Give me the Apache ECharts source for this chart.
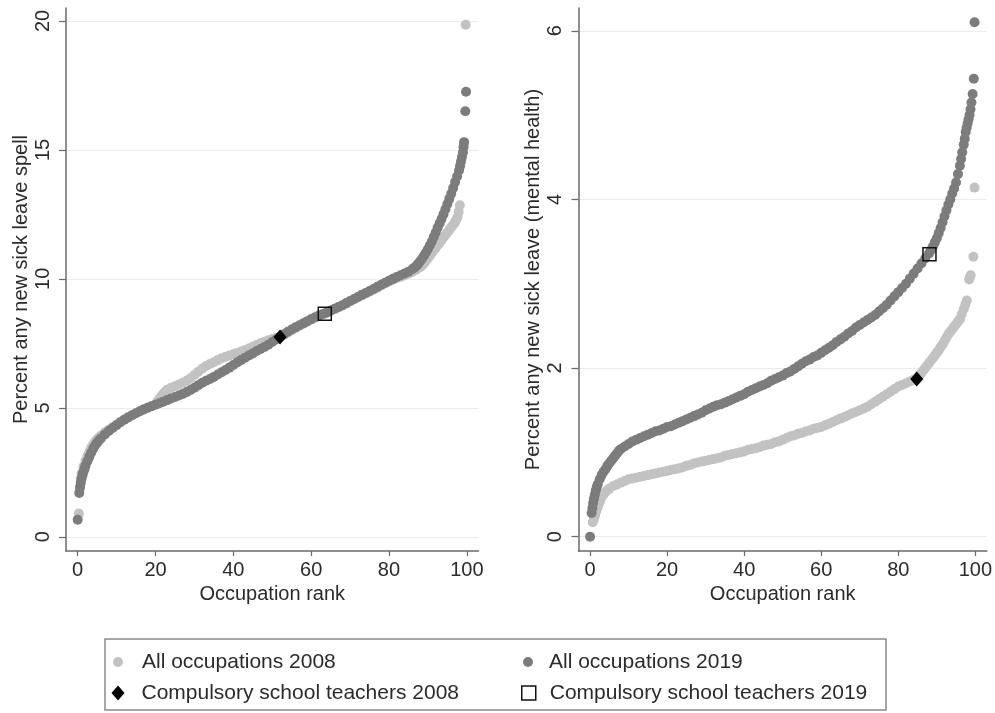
<!DOCTYPE html>
<html>
<head>
<meta charset="utf-8">
<script src="https://cdn.jsdelivr.net/npm/echarts@6/dist/echarts.min.js"></script>
<style>
  html, body { margin: 0; padding: 0; background: #fff; }
  #chart { width: 995px; height: 713px; }
</style>
</head>
<body>
<div id="chart"></div>
<script>
// Tick positions
const xTicks = [0, 20, 40, 60, 80, 100];
const spellTicks = [0, 5, 10, 15, 20];
const mentalTicks = [0, 2, 4, 6];

// Percent with any new sick leave spell, by occupation rank [rank, percent]
const spellAll2008 = [
  [0.3,0.9],[0.6,1.95],[0.8,2.25],[1,2.45],[1.5,2.72],[2,2.95],[2.5,3.13],[3,3.3],[3.5,3.45],[4,3.58],
  [4.5,3.69],[5,3.78],[5.5,3.86],[6,3.93],[7,4.05],[8,4.15],
  [9,4.25],[10,4.35],[11,4.45],[12,4.55],[13,4.64],[14,4.72],[15,4.8],[16,4.88],[17,4.95],[18,5.01],
  [19,5.07],[20,5.14],[20.5,5.25],[21,5.35],[21.5,5.45],[22,5.55],[22.5,5.63],[23,5.7],[24,5.78],[25,5.84],
  [26,5.9],[27,5.97],[28,6.05],
  [29,6.15],[30,6.27],[31,6.4],[32,6.52],[33,6.62],[34,6.7],[35,6.77],[36,6.85],[37,6.92],[38,6.98],
  [39,7.03],[40,7.08],[41,7.13],[42,7.18],[43,7.24],[44,7.3],[45,7.37],[46,7.44],[47,7.5],[48,7.56],
  [49,7.62],[50,7.67],[51,7.71],[52,7.75],[53,7.83],[54,7.92],[55,8.01],[56,8.1],[57,8.18],[58,8.26],
  [59,8.34],[60,8.42],[61,8.49],[62,8.56],[63,8.62],[64,8.68],[65,8.75],[66,8.82],[67,8.89],[68,8.96],
  [69,9.04],[70,9.12],[71,9.2],[72,9.28],[73,9.35],[74,9.42],[75,9.5],[76,9.58],[77,9.66],[78,9.74],
  [79,9.82],[80,9.9],[81,9.96],[82,10.02],[83,10.08],[84,10.14],[85,10.2],[86,10.27],[87,10.35],[88,10.45],
  [88.5,10.52],[89,10.6],[89.5,10.7],[90,10.8],[90.5,10.9],[91,11.0],[91.5,11.1],[92,11.2],[92.5,11.3],
  [93,11.4],[93.5,11.5],[94,11.6],[94.5,11.7],[95,11.8],[95.5,11.9],[96,12.0],[96.5,12.1],[97,12.2],
  [97.3,12.3],[97.6,12.4],[97.9,12.6],[98.2,12.85],[99.2,15.2],[99.7,19.85]
];
const spellAll2019 = [
  [0,0.66],[0.4,1.7],[0.6,1.9],[0.8,2.1],[1,2.25],[1.25,2.4],[1.5,2.52],[1.75,2.63],[2,2.75],[2.5,2.93],
  [3,3.1],[3.5,3.27],[4,3.42],[4.5,3.55],[5,3.65],[5.5,3.74],[6,3.82],[7,3.97],
  [8,4.1],[9,4.22],[10,4.33],[11,4.44],[12,4.54],[13,4.63],[14,4.71],[15,4.79],[16,4.87],[17,4.94],
  [18,5.0],[19,5.06],[20,5.12],[21,5.18],[22,5.24],[23,5.3],[24,5.36],[25,5.42],[26,5.48],[27,5.54],
  [28,5.61],[29,5.69],[30,5.78],[31,5.88],[32,5.97],[33,6.05],[34,6.12],[35,6.2],[36,6.29],[37,6.38],
  [38,6.47],[39,6.56],[40,6.66],[41,6.76],[42,6.85],[43,6.94],[44,7.03],[45,7.11],[46,7.2],[47,7.28],
  [48,7.36],[49,7.45],[50,7.55],[51,7.65],[52,7.75],[53,7.85],[54,7.95],[55,8.04],[56,8.12],[57,8.2],
  [58,8.28],[59,8.36],[60,8.44],[61,8.51],[62,8.58],[63,8.64],[64,8.7],[65,8.77],[66,8.84],[67,8.91],
  [68,8.98],[69,9.06],[70,9.14],[71,9.22],[72,9.3],[73,9.38],[74,9.45],[75,9.53],[76,9.61],[77,9.69],
  [78,9.77],[79,9.85],[80,9.93],[81,10.0],[82,10.07],[83,10.14],[84,10.21],[85,10.28],[86,10.37],
  [86.5,10.43],[87,10.5],[87.5,10.58],[88,10.68],[88.5,10.78],[89,10.9],[89.5,11.02],[90,11.15],
  [90.5,11.3],[91,11.45],[91.5,11.62],[92,11.8],[92.5,11.98],[93,12.15],[93.5,12.32],[94,12.5],
  [94.5,12.7],[95,12.9],[95.5,13.1],[96,13.3],[96.5,13.52],[97,13.75],[97.5,13.97],[98,14.2],
  [98.25,14.37],[98.5,14.55],[98.75,14.72],[99,14.9],[99.15,15.1],[99.3,15.3],[99.6,16.5],[99.8,17.25]
];
const spellTeachers2008 = [[52,7.75]];
const spellTeachers2019 = [[63.5,8.65]];

// Percent with any new sick leave for mental health, by occupation rank [rank, percent]
const mentalAll2008 = [
  [0.7,0.17],[1,0.21],[1.3,0.25],[1.6,0.3],[2,0.35],[2.3,0.39],[2.6,0.42],[3,0.47],[3.5,0.5],[4,0.53],
  [4.5,0.55],[5,0.57],[6,0.6],[7,0.62],[8,0.64],
  [9,0.66],[10,0.68],[11,0.69],[12,0.7],[13,0.71],[14,0.72],[15,0.73],[16,0.74],[17,0.75],[18,0.76],
  [19,0.77],[20,0.78],[21,0.79],[22,0.8],[23,0.81],[24,0.82],[25,0.84],[26,0.85],[27,0.87],[28,0.88],
  [29,0.89],[30,0.9],[31,0.91],[32,0.92],[33,0.93],[34,0.94],[35,0.96],[36,0.97],[37,0.98],[38,0.99],
  [39,1.0],[40,1.01],[41,1.03],[42,1.04],[43,1.05],[44,1.06],[45,1.08],[46,1.09],[47,1.1],[48,1.12],
  [49,1.13],[50,1.15],[51,1.17],[52,1.19],[53,1.2],[54,1.22],[55,1.23],[56,1.25],[57,1.26],[58,1.28],
  [59,1.29],[60,1.3],[61,1.32],[62,1.34],[63,1.36],[64,1.38],[65,1.4],[66,1.42],[67,1.44],[68,1.46],
  [69,1.48],[70,1.5],[71,1.52],[72,1.54],[73,1.57],[74,1.6],[75,1.63],[76,1.66],[77,1.69],[78,1.72],
  [79,1.75],[80,1.78],[81,1.8],[82,1.82],[83,1.84],[84,1.86],[85,1.88],[85.5,1.91],[86,1.94],[86.5,1.97],
  [87,2.0],[87.5,2.03],[88,2.06],[88.5,2.09],[89,2.12],[89.5,2.15],[90,2.18],[90.5,2.21],[91,2.25],
  [91.5,2.28],[92,2.32],[92.5,2.36],[93,2.4],[93.5,2.43],[94,2.46],[94.5,2.49],[95,2.52],[95.5,2.55],
  [96,2.58],[96.5,2.64],[97,2.7],[97.4,2.75],[97.8,2.8],[98.4,3.05],[98.6,3.08],[98.8,3.1],[99.5,3.32],
  [99.8,4.14]
];
const mentalAll2019 = [
  [0,0.0],[0.4,0.28],[0.6,0.34],[0.8,0.4],[1,0.45],[1.25,0.5],[1.5,0.55],[1.75,0.59],[2,0.62],[2.5,0.68],
  [3,0.73],[3.5,0.77],[4,0.8],[4.5,0.84],[5,0.87],[5.5,0.9],[6,0.93],[6.5,0.96],[7,0.99],[7.5,1.02],
  [8,1.04],[9,1.07],[10,1.1],[11,1.13],[12,1.15],[13,1.17],[14,1.19],[15,1.21],[16,1.23],[17,1.25],
  [18,1.26],[19,1.28],[20,1.3],[21,1.31],[22,1.33],[23,1.35],[24,1.37],[25,1.39],[26,1.41],[27,1.43],
  [28,1.45],[29,1.47],[30,1.5],[31,1.52],[32,1.54],[33,1.56],[34,1.57],[35,1.59],[36,1.61],[37,1.63],
  [38,1.65],[39,1.67],[40,1.69],[41,1.72],[42,1.74],[43,1.76],[44,1.78],[45,1.8],[46,1.82],[47,1.85],
  [48,1.87],[49,1.89],[50,1.91],[51,1.94],[52,1.96],[53,1.99],[54,2.02],[55,2.05],[56,2.08],[57,2.1],
  [58,2.13],[59,2.15],[60,2.18],[61,2.21],[62,2.24],[63,2.27],[64,2.31],[65,2.34],[66,2.37],[67,2.41],
  [68,2.44],[69,2.48],[70,2.51],[71,2.54],[72,2.57],[73,2.6],[74,2.63],[75,2.67],[76,2.71],[77,2.75],
  [78,2.8],[79,2.85],[80,2.9],[81,2.95],[82,3.0],[83,3.06],[84,3.12],[85,3.18],[86,3.24],[87,3.3],
  [88,3.36],[88.5,3.4],[89,3.44],[89.5,3.49],[90,3.54],[90.5,3.6],[91,3.66],[91.5,3.73],[92,3.8],
  [92.5,3.87],[93,3.94],[93.5,4.0],[94,4.07],[94.5,4.13],[95,4.2],[95.5,4.3],[96,4.4],[96.3,4.48],
  [96.6,4.56],[97,4.65],[97.25,4.72],[97.5,4.8],[97.75,4.85],[98,4.9],[98.25,4.95],[98.5,5.0],
  [98.75,5.07],[99,5.15],[99.3,5.25],[99.6,5.43],[99.8,6.1]
];
const mentalTeachers2008 = [[84.8,1.87]];
const mentalTeachers2019 = [[88.1,3.35]];

const FONT = '"Liberation Sans", Arial, sans-serif';
const TEXT = '#2b2b2b';
const AXIS = '#6a6a6a';
const LIGHT = '#c2c2c2';
const DARK = '#7c7c7c';

const NAMES = {
  all08: 'All occupations 2008',
  all19: 'All occupations 2019',
  t08: 'Compulsory school teachers 2008',
  t19: 'Compulsory school teachers 2019'
};

function xAxisFor(gridIndex) {
  return {
    gridIndex, type: 'value', min: -3, max: 103,
    name: 'Occupation rank', nameLocation: 'middle', nameGap: 32,
    nameTextStyle: { fontFamily: FONT, fontSize: 20, color: TEXT },
    axisLine: { show: true, onZero: false, lineStyle: { color: AXIS, width: 1.5 } },
    axisTick: { show: true, length: 5, customValues: xTicks, lineStyle: { color: AXIS, width: 1.2 } },
    axisLabel: { customValues: xTicks, fontFamily: FONT, fontSize: 20, color: TEXT, margin: 9 },
    splitLine: { show: false }
  };
}

function yAxisFor(gridIndex, min, max, ticks, name) {
  return {
    gridIndex, type: 'value', min, max,
    name, nameLocation: 'middle', nameGap: 35,
    nameTextStyle: { fontFamily: FONT, fontSize: 20, color: TEXT },
    axisLine: { show: true, onZero: false, lineStyle: { color: AXIS, width: 1.5 } },
    axisTick: { show: true, length: 7, customValues: ticks, lineStyle: { color: AXIS, width: 1.2 } },
    axisLabel: { customValues: ticks, rotate: 90, fontFamily: FONT, fontSize: 20, color: TEXT, margin: 13 },
    splitLine: { show: true, lineStyle: { color: '#ececec', width: 1 } }
  };
}

function panelSeries(idx, all08, all19, t08, t19) {
  const base = { type: 'scatter', xAxisIndex: idx, yAxisIndex: idx, emphasis: { disabled: true }, silent: true };
  return [
    Object.assign({}, base, { name: NAMES.all08, data: all08, symbol: 'circle', symbolSize: 10,
      itemStyle: { color: LIGHT, opacity: 1 }, z: 2 }),
    Object.assign({}, base, { name: NAMES.all19, data: all19, symbol: 'circle', symbolSize: 10,
      itemStyle: { color: DARK, opacity: 1 }, z: 3 }),
    Object.assign({}, base, { name: NAMES.t08, data: t08, symbol: 'diamond', symbolSize: [13, 15],
      itemStyle: { color: '#000', opacity: 1 }, z: 4 }),
    Object.assign({}, base, { name: NAMES.t19, data: t19, symbol: 'rect', symbolSize: 13,
      itemStyle: { color: 'rgba(0,0,0,0)', borderColor: '#111', borderWidth: 1.5, opacity: 1 }, z: 5 })
  ];
}

// One legend block per entry; textPad shifts the label clear of its marker
function legendItem(name, left, top, w, h, textPad, itemStyle) {
  return {
    left, top, padding: 0, itemWidth: w, itemHeight: h, selectedMode: false,
    data: [{ name, itemStyle }],
    textStyle: { fontFamily: FONT, fontSize: 21, color: TEXT, lineHeight: 24, padding: [0, 0, 0, textPad] }
  };
}

const chart = echarts.init(document.getElementById('chart'), null, { renderer: 'canvas' });
chart.setOption({
  animation: false,
  backgroundColor: '#ffffff',
  grid: [
    { left: 66, top: 8, width: 412.5, height: 543 },
    { left: 578.5, top: 8, width: 411, height: 543 }
  ],
  xAxis: [xAxisFor(0), xAxisFor(1)],
  yAxis: [
    yAxisFor(0, -0.55, 20.5, spellTicks, 'Percent any new sick leave spell'),
    yAxisFor(1, -0.17, 6.27, mentalTicks, 'Percent any new sick leave (mental health)')
  ],
  legend: [
    legendItem(NAMES.all08, 113, 650, 10, 10, 14, { color: LIGHT }),
    legendItem(NAMES.t08, 111.5, 681, 13, 15, 12, { color: '#000' }),
    legendItem(NAMES.all19, 523, 650, 10, 10, 11, { color: DARK }),
    legendItem(NAMES.t19, 521, 681, 14, 14, 9, { color: 'rgba(0,0,0,0)', borderColor: '#111', borderWidth: 1.5 })
  ],
  graphic: [{
    type: 'rect', silent: true,
    shape: { x: 105, y: 639, width: 781, height: 71 },
    style: { fill: 'none', stroke: '#8a8a8a', lineWidth: 1.5 }
  }],
  series: [].concat(
    panelSeries(0, spellAll2008, spellAll2019, spellTeachers2008, spellTeachers2019),
    panelSeries(1, mentalAll2008, mentalAll2019, mentalTeachers2008, mentalTeachers2019)
  )
});
</script>
</body>
</html>
